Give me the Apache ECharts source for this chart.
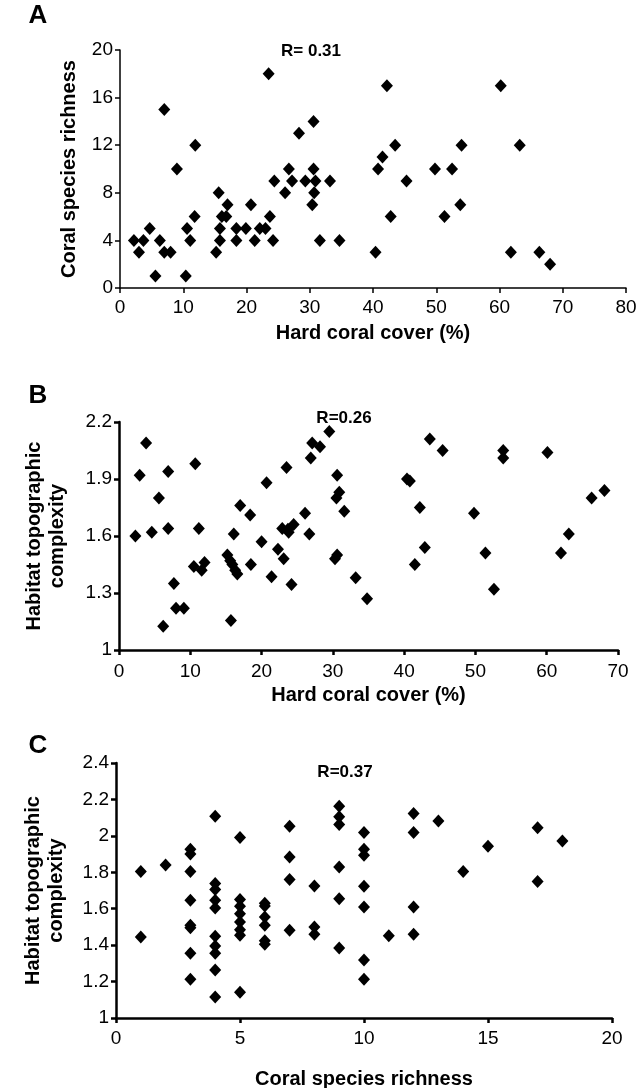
<!DOCTYPE html>
<html>
<head>
<meta charset="utf-8">
<script src="https://cdn.jsdelivr.net/npm/echarts@6/dist/echarts.min.js"></script>
<style>
  html, body { margin: 0; padding: 0; background: #fff; }
  #main { width: 640px; height: 1088px; }
</style>
</head>
<body>
<div id="main"></div>
<script>
// panel A: hard coral cover vs coral species richness
var aCover = [7, 23.5, 42.2, 60.2, 11.9, 28.3, 30.6, 43.5, 41.5, 54, 63.2,
  9, 26.7, 30.6, 40.8, 49.8, 52.5,
  24.4, 27.2, 29.3, 30.9, 33.2, 45.3,
  15.6, 26.1, 30.7,
  17, 20.7, 30.4, 53.8,
  11.8, 16.1, 16.8, 23.7, 42.8, 51.3,
  4.7, 10.6, 15.8, 18.4, 19.9, 22.1, 23,
  2.2, 3.7, 6.3, 11.1, 15.8, 18.4, 21.3, 24.2, 31.6, 34.7,
  3, 7, 8, 15.2, 40.4, 61.8, 66.3,
  68, 5.6, 10.4];
var aRichness = [15, 18, 17, 17, 12, 13, 14, 12, 11, 12, 12,
  10, 10, 10, 10, 10, 10,
  9, 9, 9, 9, 9, 9,
  8, 8, 8,
  7, 7, 7, 7,
  6, 6, 6, 6, 6, 6,
  5, 5, 5, 5, 5, 5, 5,
  4, 4, 4, 4, 4, 4, 4, 4, 4, 4,
  3, 3, 3, 3, 3, 3, 3,
  2, 1, 1];

// panel B: hard coral cover vs habitat complexity
var bCover = [3.8, 29.5, 27.1, 28.2, 26.9, 43.6, 45.4, 53.9, 53.9, 60.1, 10.7, 23.5,
  2.9, 6.9, 30.6, 20.7, 40.4, 40.8, 68.1, 66.3, 5.6, 30.9, 30.5,
  17, 18.4, 26.1, 31.6, 42.2, 49.8,
  2.3, 4.6, 6.9, 11.2, 16.1, 26.7, 22.9, 23.7, 24.5, 23.8, 63.1,
  20, 22.3, 42.9, 51.4, 62,
  15.2, 30.6, 30.3, 23.1, 15.6, 15.9, 18.5, 41.5, 10.5, 12, 11.6, 16.3, 16.6,
  21.4, 33.2, 7.7, 24.2, 52.6, 34.8, 8, 9.1, 15.7, 6.2];
var bComplexity = [2.09, 2.15, 2.09, 2.07, 2.01, 2.11, 2.05, 2.05, 2.01, 2.04, 1.98, 1.96,
  1.92, 1.94, 1.92, 1.88, 1.90, 1.89, 1.84, 1.80, 1.80, 1.83, 1.80,
  1.76, 1.71, 1.72, 1.73, 1.75, 1.72,
  1.60, 1.62, 1.64, 1.64, 1.61, 1.61, 1.64, 1.635, 1.66, 1.62, 1.61,
  1.57, 1.53, 1.54, 1.51, 1.51,
  1.50, 1.50, 1.48, 1.48, 1.47, 1.45, 1.45, 1.45, 1.44, 1.46, 1.42, 1.42, 1.40,
  1.385, 1.38, 1.35, 1.345, 1.32, 1.27, 1.22, 1.22, 1.155, 1.125];

// panel C: coral species richness vs habitat complexity
var cRichness = [1, 2, 3, 3, 3, 3, 4, 4, 4, 4, 4, 5, 5, 5, 5, 6, 6, 6, 7, 7, 7, 8,
  9, 9, 9, 9, 9, 10, 10, 10, 10, 10, 12, 12, 12, 13, 14, 15, 17, 17, 18,
  1, 3, 3, 3, 3, 4, 4, 4, 4, 4, 5, 5, 5, 5, 6, 6, 6, 7, 8, 8, 9, 10, 10, 11, 12];
var cComplexity = [1.805, 1.84, 1.927, 1.90, 1.805, 1.646, 2.108, 1.738, 1.706, 1.646, 1.604,
  1.991, 1.651, 1.613, 1.572, 1.63, 1.615, 1.554, 2.053, 1.884, 1.76, 1.725,
  2.163, 2.105, 2.062, 1.829, 1.655, 2.018, 1.927, 1.894, 1.723, 1.609,
  2.123, 2.018, 1.609, 2.081, 1.805, 1.943, 2.044, 1.75, 1.972,
  1.445, 1.509, 1.496, 1.355, 1.213, 1.449, 1.395, 1.355, 1.264, 1.115,
  1.527, 1.485, 1.455, 1.142, 1.509, 1.424, 1.405, 1.482, 1.5, 1.46,
  1.385, 1.318, 1.213, 1.451, 1.46];

function pairs(xs, ys) {
  return xs.map(function (x, i) { return [x, ys[i]]; });
}

var fontFamily = 'Liberation Sans, Arial, sans-serif';
var black = '#000';

function axis(min, max, interval, width, name, gap, margin, extra) {
  var o = {
    type: 'value',
    min: min,
    max: max,
    interval: interval,
    splitLine: { show: false },
    axisLine: { show: true, onZero: false, lineStyle: { color: black, width: width } },
    axisTick: { show: true, length: 5, lineStyle: { color: black, width: width } },
    axisLabel: { color: black, fontSize: 19, fontFamily: fontFamily, margin: margin },
    name: name,
    nameLocation: 'middle',
    nameGap: gap,
    nameTextStyle: { color: black, fontSize: 20, fontWeight: 'bold', fontFamily: fontFamily, lineHeight: 23 }
  };
  for (var k in extra) o[k] = extra[k];
  return o;
}

function scatter(i, data) {
  return {
    type: 'scatter',
    xAxisIndex: i,
    yAxisIndex: i,
    data: data,
    symbol: 'diamond',
    symbolSize: [12, 13],
    itemStyle: { color: black, opacity: 1 },
    silent: true
  };
}

function label(x, y, text, size) {
  return {
    type: 'text',
    x: x,
    y: y,
    style: {
      text: text, fill: black, font: 'bold ' + size + 'px ' + fontFamily,
      textAlign: 'center', textVerticalAlign: 'middle'
    }
  };
}

var chart = echarts.init(document.getElementById('main'));
var option = {
  animation: false,
  backgroundColor: '#fff',
  grid: [
    { left: 120, top: 50, width: 506, height: 238, outerBoundsMode: 'none' },
    { left: 119, top: 422, width: 499, height: 228, outerBoundsMode: 'none' },
    { left: 116, top: 763, width: 496, height: 255, outerBoundsMode: 'none' }
  ],
  xAxis: [
    axis(0, 80, 10, 1.5, 'Hard coral cover (%)', 34, 10, { gridIndex: 0 }),
    axis(0, 70, 10, 2.5, 'Hard coral cover (%)', 34, 12, { gridIndex: 1 }),
    axis(0, 20, 5, 2.5, 'Coral species richness', 50, 11, { gridIndex: 2 })
  ],
  yAxis: [
    axis(0, 20, 4, 1.5, 'Coral species richness', 38, 7, { gridIndex: 0 }),
    axis(1, 2.2, 0.3, 2.5, 'Habitat topographic\ncomplexity', 50, 7, { gridIndex: 1 }),
    axis(1, 2.4, 0.2, 2.5, 'Habitat topographic\ncomplexity', 48, 7, { gridIndex: 2 })
  ],
  series: [
    scatter(0, pairs(aCover, aRichness)),
    scatter(1, pairs(bCover, bComplexity)),
    scatter(2, pairs(cRichness, cComplexity))
  ],
  graphic: [
    label(38, 16, 'A', 26),
    label(38, 396, 'B', 26),
    label(38, 746, 'C', 26),
    label(311, 51, 'R= 0.31', 17),
    label(344, 418, 'R=0.26', 17),
    label(345, 772, 'R=0.37', 17)
  ]
};
chart.setOption(option);
</script>
</body>
</html>
